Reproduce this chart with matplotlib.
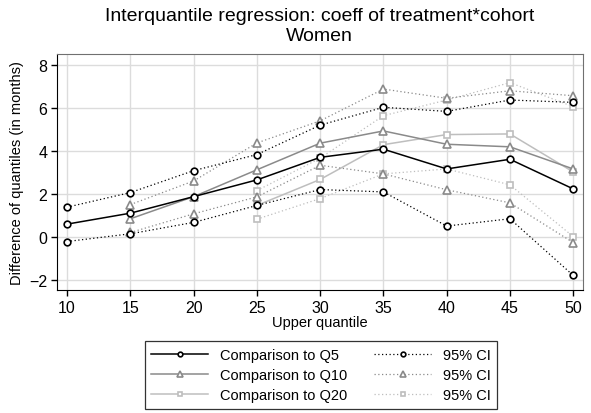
import matplotlib
matplotlib.use('Agg')
import matplotlib.pyplot as plt
import numpy as np

plt.rcParams['font.family'] = ['Liberation Sans', 'DejaVu Sans']

# upper quantile positions
q = [10, 15, 20, 25, 30, 35, 40, 45, 50]

# comparison to Q5
q5 = [0.59, 1.10, 1.87, 2.65, 3.70, 4.08, 3.16, 3.61, 2.23]
q5_hi = [1.38, 2.06, 3.08, 3.83, 5.20, 6.03, 5.84, 6.37, 6.26]
q5_lo = [-0.22, 0.14, 0.67, 1.46, 2.20, 2.09, 0.50, 0.84, -1.80]

# comparison to Q10 (starts at 15)
q10_x = [15, 20, 25, 30, 35, 40, 45, 50]
q10 = [0.84, 1.87, 3.12, 4.36, 4.93, 4.31, 4.19, 3.16]
q10_hi = [1.50, 2.60, 4.37, 5.40, 6.88, 6.45, 6.80, 6.57]
q10_lo = [0.20, 1.07, 1.86, 3.33, 2.93, 2.19, 1.58, -0.27]

# comparison to Q20 (starts at 25)
q20_x = [25, 30, 35, 40, 45, 50]
q20 = [1.46, 2.67, 4.29, 4.76, 4.79, 3.02]
q20_hi = [2.15, 3.66, 5.64, 6.37, 7.18, 6.06]
q20_lo = [0.82, 1.78, 2.93, 3.16, 2.42, 0.01]

fig = plt.figure(figsize=(5.91, 4.14), dpi=100)
ax = fig.add_axes([0.0964, 0.297, 0.89, 0.57])

c5, c10, c20 = '#000000', '#8a8a8a', '#bebebe'
ms = 4.8

h1, = ax.plot(q, q5, color=c5, lw=1.1, marker='o', ms=ms, mfc='white', mec=c5, mew=1.2, zorder=5)
h2, = ax.plot(q10_x, q10, color=c10, lw=1.1, marker='^', ms=ms + 0.6, mfc='white', mec=c10, mew=1.2, zorder=4)
h3, = ax.plot(q20_x, q20, color=c20, lw=1.1, marker='s', ms=ms - 0.2, mfc='white', mec=c20, mew=1.2, zorder=3)

kw = dict(lw=0.9, ls=(0, (1, 2)))
h4, = ax.plot(q, q5_hi, color=c5, marker='o', ms=ms, mfc='white', mec=c5, mew=1.2, zorder=5, **kw)
ax.plot(q, q5_lo, color=c5, marker='o', ms=ms, mfc='white', mec=c5, mew=1.2, zorder=5, **kw)
h5, = ax.plot(q10_x, q10_hi, color=c10, marker='^', ms=ms + 0.6, mfc='white', mec=c10, mew=1.2, zorder=4, **kw)
ax.plot(q10_x, q10_lo, color=c10, marker='^', ms=ms + 0.6, mfc='white', mec=c10, mew=1.2, zorder=4, **kw)
h6, = ax.plot(q20_x, q20_hi, color=c20, marker='s', ms=ms - 0.2, mfc='white', mec=c20, mew=1.2, zorder=3, **kw)
ax.plot(q20_x, q20_lo, color=c20, marker='s', ms=ms - 0.2, mfc='white', mec=c20, mew=1.2, zorder=3, **kw)

ax.set_xlim(9.2, 50.77)
ax.set_ylim(-2.48, 8.51)
ax.set_xticks(q)
ax.set_yticks([-2, 0, 2, 4, 6, 8])
ax.set_yticklabels(['\u22122', '0', '2', '4', '6', '8'])
ax.grid(True, color='#dcdcdc', lw=1.0)
ax.set_axisbelow(True)
ax.tick_params(direction='out', length=4.5, width=1, labelsize=11.5, colors='black', pad=2.5)
for s in ['top', 'right']:
    ax.spines[s].set_color('#707070')
for s in ['left', 'bottom']:
    ax.spines[s].set_color('black')

ax.set_xlabel('Upper quantile', fontsize=10.5, labelpad=0)
ax.set_ylabel('Difference of quantiles (in months)', fontsize=10.5, labelpad=4)

fig.text(0.541, 0.961, 'Interquantile regression: coeff of treatment*cohort',
         ha='center', va='center', fontsize=14)
fig.text(0.541, 0.912, 'Women', ha='center', va='center', fontsize=14)

leg = fig.legend([h1, h2, h3, h4, h5, h6],
                 ['Comparison to Q5', 'Comparison to Q10', 'Comparison to Q20',
                  '95% CI', '95% CI', '95% CI'],
                 ncol=2, loc='lower center', bbox_to_anchor=(0.543, 0.0),
                 fontsize=10.5, handlelength=3.9, frameon=True, fancybox=False,
                 edgecolor='black', labelspacing=0.42, columnspacing=1.85,
                 borderpad=0.45, handletextpad=0.8, borderaxespad=0.3,
                 markerscale=0.7)
leg.get_frame().set_linewidth(0.9)

fig.savefig('out.png', dpi=100)
